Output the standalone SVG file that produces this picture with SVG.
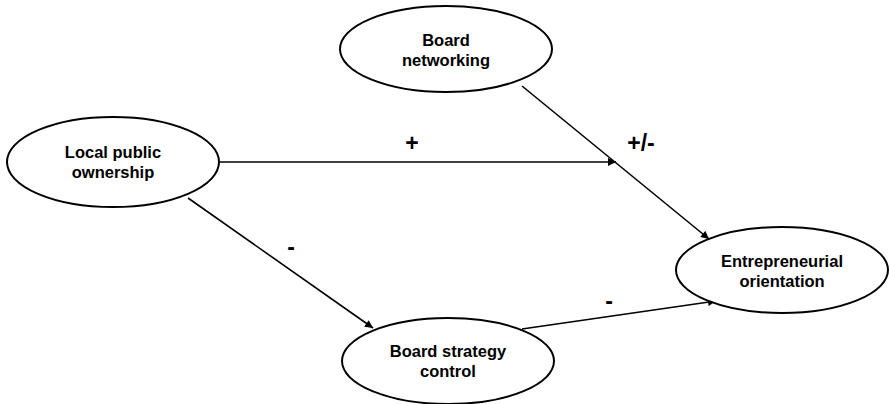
<svg xmlns="http://www.w3.org/2000/svg" width="889" height="404" viewBox="0 0 889 404">
<style>
.n{fill:#fff;stroke:#000;stroke-width:2}
.t{font-family:"Liberation Sans",Arial,sans-serif;font-weight:bold;font-size:16.5px;text-anchor:middle;fill:#000}
.l{font-family:"Liberation Sans",Arial,sans-serif;font-weight:bold;font-size:23px;text-anchor:middle;fill:#000}
.c{stroke:#000;stroke-width:1.6;fill:none;marker-end:url(#a)}
</style>
<defs>
<marker id="a" viewBox="0 0 10 10" refX="10" refY="5" markerWidth="9" markerHeight="8" markerUnits="userSpaceOnUse" orient="auto">
<path d="M0,0L10,5L0,10z" fill="#000"/>
</marker>
</defs>
<rect width="889" height="404" fill="#fff"/>
<g id="connectors">
<line class="c" x1="220" y1="162" x2="616" y2="162"/>
<line class="c" x1="522" y1="86" x2="709" y2="239"/>
<line class="c" x1="188" y1="198" x2="373" y2="328"/>
<line class="c" x1="522" y1="329" x2="716" y2="301"/>
</g>
<g id="labels">
<text class="l" x="412" y="151">+</text>
<text class="l" x="641" y="151">+/-</text>
<text class="l" x="291" y="255">-</text>
<text class="l" x="609" y="309">-</text>
</g>
<g id="local">
<ellipse class="n" cx="113" cy="162" rx="106" ry="45"/>
<text class="t" x="113" y="158">Local public</text>
<text class="t" x="113" y="178">ownership</text>
</g>
<g id="networking">
<ellipse class="n" cx="446" cy="49" rx="106" ry="43"/>
<text class="t" x="446" y="46">Board</text>
<text class="t" x="446" y="66">networking</text>
</g>
<g id="strategy">
<ellipse class="n" cx="448" cy="361" rx="106" ry="43"/>
<text class="t" x="448" y="357">Board strategy</text>
<text class="t" x="448" y="377">control</text>
</g>
<g id="eo">
<ellipse class="n" cx="782" cy="270" rx="106" ry="43"/>
<text class="t" x="782" y="267">Entrepreneurial</text>
<text class="t" x="782" y="287">orientation</text>
</g>
</svg>
